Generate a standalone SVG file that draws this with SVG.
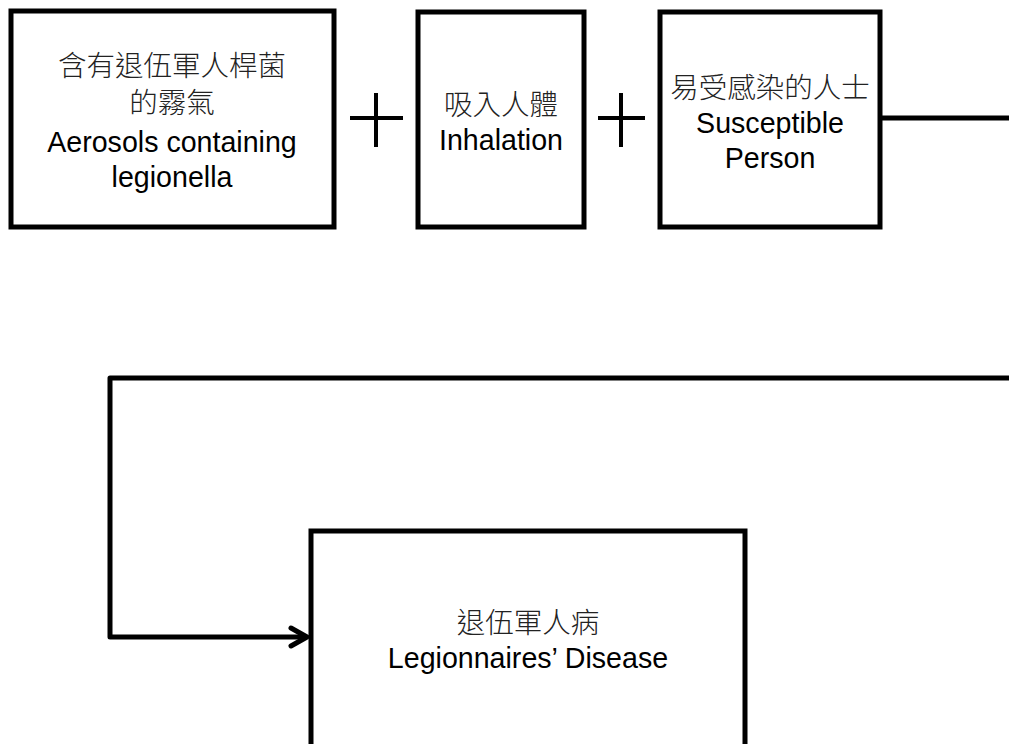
<svg xmlns="http://www.w3.org/2000/svg" width="1009" height="744" viewBox="0 0 1009 744">
<style>
.box{fill:#fff;stroke:#000;stroke-width:5}
.zh{font-family:"Noto Sans CJK TC","Noto Sans CJK SC",sans-serif;font-weight:300;font-size:28.5px;fill:#222;text-anchor:middle}
.en{font-family:"Liberation Sans",Arial,sans-serif;font-size:28.6px;fill:#000;text-anchor:middle}
.ln{fill:none;stroke:#000;stroke-width:5;stroke-linejoin:round}
.plus{stroke:#000;stroke-width:4}
</style>
<rect width="1009" height="744" fill="#fff"/>
<g id="connectors">
<line class="ln" x1="881" y1="118" x2="1009" y2="118"/>
<polyline class="ln" points="1009,378 110,378 110,637 306,637"/>
<polyline class="ln" points="291,628 307,637 291,646" stroke-linecap="round"/>
</g>
<g id="plus1"><line class="plus" x1="350" y1="118" x2="403" y2="118"/><line class="plus" x1="376" y1="93" x2="376" y2="147"/></g>
<g id="plus2"><line class="plus" x1="598" y1="118" x2="645" y2="118"/><line class="plus" x1="621" y1="93" x2="621" y2="147"/></g>
<g id="node-aerosols">
<rect class="box" x="11" y="11" width="323" height="216"/>
<text class="zh" x="172" y="76">含有退伍軍人桿菌</text>
<text class="zh" x="172" y="113">的霧氣</text>
<text class="en" x="172" y="152">Aerosols containing</text>
<text class="en" x="172" y="187">legionella</text>
</g>
<g id="node-inhalation">
<rect class="box" x="418" y="12" width="166" height="215"/>
<text class="zh" x="501" y="115">吸入人體</text>
<text class="en" x="501" y="150">Inhalation</text>
</g>
<g id="node-susceptible">
<rect class="box" x="660" y="12" width="220" height="215"/>
<text class="zh" x="770" y="98">易受感染的人士</text>
<text class="en" x="770" y="133">Susceptible</text>
<text class="en" x="770" y="168">Person</text>
</g>
<g id="node-disease">
<rect class="box" x="311" y="531" width="434" height="240"/>
<text class="zh" x="528" y="633">退伍軍人病</text>
<text class="en" x="528" y="668">Legionnaires’ Disease</text>
</g>
</svg>
